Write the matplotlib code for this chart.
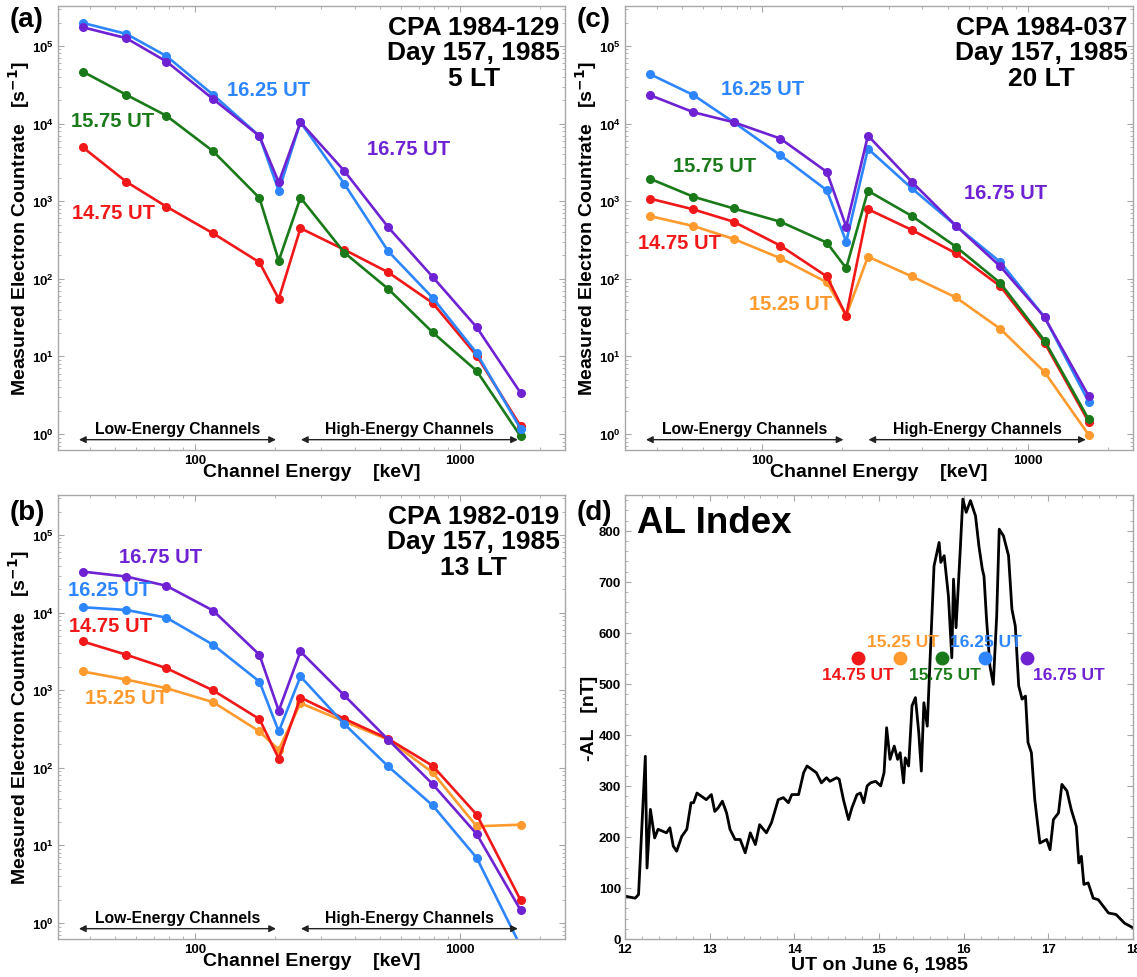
import numpy as np
import matplotlib
matplotlib.use('Agg')
from matplotlib import pyplot as plt
from matplotlib.ticker import LogLocator, FixedLocator, MultipleLocator, NullFormatter

plt.rcParams['font.family'] = ['Liberation Sans', 'DejaVu Sans']
plt.rcParams['font.weight'] = 'bold'
plt.rcParams['mathtext.default'] = 'bf'
plt.rcParams['axes.labelweight'] = 'bold'

# CPA channel energies (keV): 6 low-energy + 6 high-energy channels
energy = [37.7, 55, 78, 117, 175, 207, 250, 366, 536, 788, 1156, 1694]

# (a) CPA 1984-129, 5 LT
a_1475 = [4950, 1780, 849, 385, 163, 55, 448, 237, 121, 48.8, 10.2, 1.26]
a_1575 = [46700, 23500, 12600, 4400, 1100, 171, 1110, 217, 74, 20.4, 6.5, 0.93]
a_1625 = [198000, 143000, 74000, 23500, 6900, 1360, 10400, 1670, 226, 57, 11, 1.16]
a_1675 = [174000, 126000, 63000, 20700, 6900, 1750, 10400, 2450, 461, 106, 23.7, 3.37]

# (b) CPA 1982-019, 13 LT
b_1475 = [4240, 2860, 1920, 993, 424, 131, 804, 428, 236, 106, 24.9, 1.96]
b_1525 = [1740, 1370, 1060, 701, 294, 171, 681, 395, 230, 87, 17.6, 18.5]
b_1625 = [11700, 10800, 8600, 3840, 1290, 294, 1500, 366, 104, 32.8, 6.9, 0.5]
b_1675 = [33700, 29100, 22100, 10600, 2860, 543, 3150, 855, 230, 61.6, 14, 1.46]

# (c) CPA 1984-037, 20 LT
c_1475 = [1080, 783, 543, 267, 107, 33.6, 789, 425, 213, 80, 15, 1.44]
c_1525 = [643, 478, 326, 184, 90, 33.6, 193, 107, 57.5, 22.6, 6.3, 0.98]
c_1575 = [1950, 1140, 806, 543, 292, 137, 1360, 643, 259, 88, 16, 1.55]
c_1625 = [43400, 23300, 10400, 3900, 1380, 300, 4740, 1460, 483, 164, 32, 2.6]
c_1675 = [23300, 14000, 10400, 6400, 2380, 469, 7000, 1770, 483, 144, 32, 3.1]

# (d) AL index, UT hours and -AL (nT)
al_ut = [12.00, 12.12, 12.16, 12.24, 12.26, 12.30, 12.35, 12.39, 12.49, 12.53,
         12.57, 12.61, 12.67, 12.73, 12.78, 12.81, 12.85, 12.90, 12.96, 13.02,
         13.06, 13.10, 13.15, 13.20, 13.24, 13.30, 13.36, 13.42, 13.48, 13.54,
         13.59, 13.67, 13.73, 13.81, 13.87, 13.93, 13.97, 14.05, 14.11, 14.15,
         14.26, 14.32, 14.38, 14.42, 14.50, 14.53, 14.58, 14.64, 14.68, 14.74,
         14.78, 14.82, 14.86, 14.90, 14.96, 15.02, 15.06, 15.09, 15.13, 15.18,
         15.22, 15.25, 15.29, 15.31, 15.35, 15.39, 15.43, 15.47, 15.50, 15.53,
         15.57, 15.61, 15.65, 15.71, 15.73, 15.77, 15.82, 15.86, 15.88, 15.91,
         15.96, 15.99, 16.03, 16.08, 16.14, 16.18, 16.22, 16.24, 16.27, 16.31,
         16.35, 16.39, 16.42, 16.47, 16.53, 16.57, 16.61, 16.65, 16.69, 16.73,
         16.76, 16.80, 16.84, 16.90, 16.98, 17.02, 17.06, 17.12, 17.16, 17.22,
         17.27, 17.33, 17.36, 17.39, 17.42, 17.47, 17.53, 17.59, 17.71, 17.80,
         17.90, 18.00]
al_val = [84, 80, 87, 358, 139, 254, 198, 215, 208, 218,
          182, 172, 201, 215, 267, 267, 286, 280, 273, 283,
          250, 257, 270, 247, 215, 195, 195, 169, 208, 185,
          224, 208, 228, 273, 277, 267, 283, 283, 326, 339,
          326, 306, 316, 309, 316, 313, 273, 234, 257, 283,
          286, 267, 300, 306, 309, 300, 326, 414, 352, 378,
          352, 365, 306, 355, 339, 457, 473, 404, 329, 463,
          417, 574, 731, 777, 738, 751, 672, 551, 705, 610,
          764, 862, 836, 859, 829, 770, 725, 711, 627, 535,
          499, 633, 803, 790, 751, 646, 613, 496, 470, 476,
          385, 365, 273, 188, 195, 175, 234, 247, 303, 290,
          254, 221, 149, 162, 107, 110, 80, 77, 51, 48,
          31, 22]

snap_ut = [14.75, 15.25, 15.75, 16.25, 16.75]
snap_al = [550, 550, 550, 550, 550]
snap_lab = ['14.75 UT', '15.25 UT', '15.75 UT', '16.25 UT', '16.75 UT']

c_red = '#f01818'
c_orange = '#ff9a2e'
c_green = '#1a7a1a'
c_blue = '#2d86ff'
c_purple = '#6e22d2'
frame = '#a8a8a8'

fig = plt.figure(figsize=(11.37, 9.78), dpi=100)
W, H = 1137.0, 978.0


def add_ax(l, t, r, b):
    return fig.add_axes([l / W, 1 - b / H, (r - l) / W, (b - t) / H])


def style(ax):
    for s in ax.spines.values():
        s.set_color(frame)
        s.set_linewidth(1.0)
    ax.tick_params(which='both', direction='in', top=True, right=True,
                   color=frame, labelsize=9.5, pad=3)
    ax.tick_params(which='major', length=4)
    ax.tick_params(which='minor', length=2.5)


def spectrum(ax, series, labels, title):
    ax.set_xscale('log')
    ax.set_yscale('log')
    for y, col in series:
        ax.plot(energy, y, '-o', color=col, lw=1.9, ms=5.5, mec=col)
    ax.set_xlim(30.4, 2490)
    ax.set_ylim(0.622, 3.27e5)
    ax.xaxis.set_major_locator(FixedLocator([100, 1000]))
    ax.xaxis.set_major_formatter(plt.FuncFormatter(lambda v, p: '%d' % v))
    ax.xaxis.set_minor_locator(LogLocator(base=10, subs=np.arange(2, 10)))
    ax.xaxis.set_minor_formatter(NullFormatter())
    ax.yaxis.set_major_locator(LogLocator(base=10, numticks=10))
    ax.yaxis.set_minor_locator(LogLocator(base=10, subs=np.arange(2, 10), numticks=10))
    ax.yaxis.set_minor_formatter(NullFormatter())
    style(ax)
    ax.set_xlabel('Channel Energy    [keV]', fontsize=14)
    ax.xaxis.set_label_coords(0.5, -0.03)
    ax.set_ylabel('Measured Electron Countrate   [s$^{-1}$]', fontsize=14)
    ax.yaxis.set_label_coords(-0.052, 0.5)
    for txt, col, x, y in labels:
        ax.text(x, y, txt, color=col, fontsize=14.5, ha='center', va='center',
                transform=ax.transAxes)
    ax.text(0.82, 0.98, title, ha='center', va='top', fontsize=19,
            linespacing=1.07, transform=ax.transAxes)
    # channel group arrows
    arr = dict(arrowstyle='<|-|>', color='#222222', lw=1.0, mutation_scale=10)
    ax.annotate('', xy=(35.6, 0.845), xytext=(207, 0.845), arrowprops=arr)
    ax.annotate('', xy=(245, 0.845), xytext=(1694, 0.845), arrowprops=arr)
    ax.text(np.sqrt(35.6 * 207), 1.16, 'Low-Energy Channels', ha='center',
            va='center', fontsize=11.3)
    ax.text(np.sqrt(245 * 1694), 1.16, 'High-Energy Channels', ha='center',
            va='center', fontsize=11.3)


ax_a = add_ax(58, 7, 565, 451)
spectrum(ax_a,
         [(a_1475, c_red), (a_1575, c_green), (a_1625, c_blue), (a_1675, c_purple)],
         [('16.25 UT', c_blue, 0.416, 0.813), ('15.75 UT', c_green, 0.1075, 0.741),
          ('14.75 UT', c_red, 0.110, 0.536), ('16.75 UT', c_purple, 0.692, 0.678)],
         'CPA 1984-129\nDay 157, 1985\n5 LT')

ax_c = add_ax(625, 7, 1133, 451)
spectrum(ax_c,
         [(c_1525, c_orange), (c_1475, c_red), (c_1575, c_green), (c_1625, c_blue),
          (c_1675, c_purple)],
         [('16.25 UT', c_blue, 0.270, 0.815), ('15.75 UT', c_green, 0.177, 0.640),
          ('14.75 UT', c_red, 0.108, 0.468), ('15.25 UT', c_orange, 0.325, 0.329),
          ('16.75 UT', c_purple, 0.75, 0.581)],
         'CPA 1984-037\nDay 157, 1985\n20 LT')

ax_b = add_ax(58, 496, 565, 940)
spectrum(ax_b,
         [(b_1525, c_orange), (b_1475, c_red), (b_1625, c_blue), (b_1675, c_purple)],
         [('16.75 UT', c_purple, 0.203, 0.862), ('16.25 UT', c_blue, 0.1026, 0.788),
          ('14.75 UT', c_red, 0.1026, 0.707), ('15.25 UT', c_orange, 0.136, 0.543)],
         'CPA 1982-019\nDay 157, 1985\n13 LT')

# (d) AL index
ax_d = add_ax(625, 496, 1133, 940)
ax_d.plot(al_ut, al_val, color='black', lw=2.0)
snap_cols = [c_red, c_orange, c_green, c_blue, c_purple]
for ut, al, lab, col in zip(snap_ut, snap_al, snap_lab, snap_cols):
    ax_d.plot(ut, al, 'o', color=col, ms=9)
offsets = [((0, -12), 'center', 'center'), ((2, 12), 'center', 'center'),
           ((2, -12), 'center', 'center'), ((1, 12), 'center', 'center'),
           ((4, -12), 'left', 'center')]
for ut, al, lab, col, (off, ha, va) in zip(snap_ut, snap_al, snap_lab, snap_cols, offsets):
    ax_d.annotate(lab, xy=(ut, al), xytext=off, textcoords='offset points',
                  color=col, fontsize=12.5, ha=ha, va=va)
ax_d.set_xlim(12, 18)
ax_d.set_ylim(0, 870)
ax_d.xaxis.set_major_locator(MultipleLocator(1))
ax_d.xaxis.set_minor_locator(MultipleLocator(0.2))
ax_d.yaxis.set_major_locator(MultipleLocator(100))
ax_d.yaxis.set_minor_locator(MultipleLocator(20))
style(ax_d)
ax_d.set_xlabel('UT on June 6, 1985', fontsize=14)
ax_d.xaxis.set_label_coords(0.5, -0.038)
ax_d.set_ylabel('-AL   [nT]', fontsize=14)
ax_d.yaxis.set_label_coords(-0.053, 0.5)
ax_d.text(0.023, 0.939, 'AL Index', fontsize=26.5, ha='left', va='center',
          transform=ax_d.transAxes)

# panel letters
for lab, px, py in [('(a)', 27, 20), ('(c)', 594, 20), ('(b)', 27, 513), ('(d)', 594, 513)]:
    fig.text(px / W, 1 - py / H, lab, fontsize=20, ha='center', va='center')

fig.savefig('out.png', dpi=100)
